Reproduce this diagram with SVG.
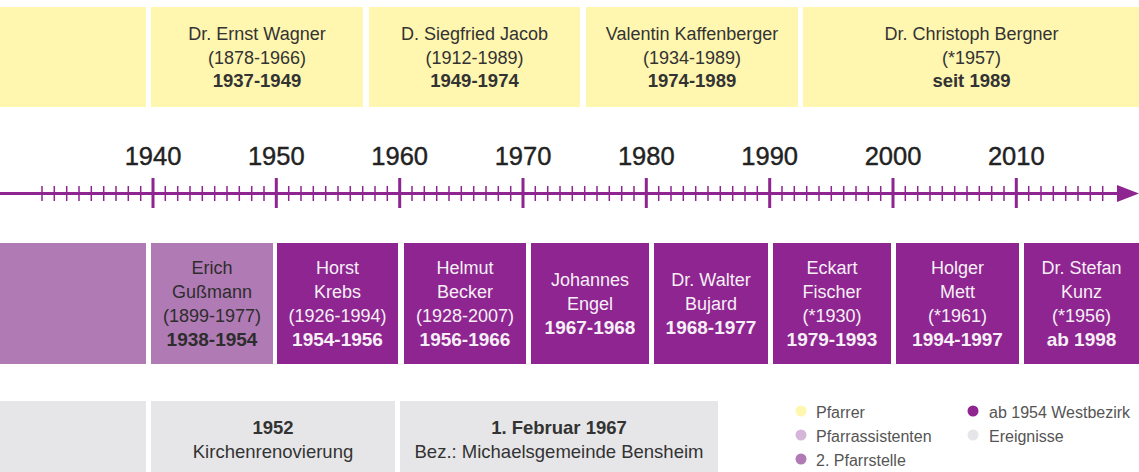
<svg xmlns="http://www.w3.org/2000/svg" width="1139" height="472" viewBox="0 0 1139 472">
<style>
text{font-family:"Liberation Sans",Arial,Helvetica,sans-serif;text-anchor:middle}
.yb{fill:#fff6b0}
.lp{fill:#b07ab4}
.dp{fill:#8e2590}
.gb{fill:#e6e6e8}
.top{font-size:18px;fill:#333}
.top.b{font-size:18.5px}
.mid{font-size:18px;fill:#2d2d2d}
.mid.b{font-size:19px}
.wt{fill:#f7eff7}
.bot{font-size:18.5px;fill:#333}
.b{font-weight:bold}
.yr{font-size:25.5px;fill:#222;stroke:#222;stroke-width:0.4px}
.lg{font-size:16px;fill:#555;text-anchor:start}
.ax{stroke:#8e2590;fill:none}
</style>

<!-- Pfarrer row -->
<g id="pfarrer-empty"><rect class="yb" x="0" y="7" width="146" height="100"/></g>
<g id="pfarrer-wagner">
<rect class="yb" x="151" y="7" width="212" height="100"/>
<text class="top" x="257" y="40">Dr. Ernst Wagner</text>
<text class="top" x="257" y="63.5">(1878-1966)</text>
<text class="top b" x="257" y="87">1937-1949</text>
</g>
<g id="pfarrer-jacob">
<rect class="yb" x="369" y="7" width="211" height="100"/>
<text class="top" x="474.5" y="40">D. Siegfried Jacob</text>
<text class="top" x="474.5" y="63.5">(1912-1989)</text>
<text class="top b" x="474.5" y="87">1949-1974</text>
</g>
<g id="pfarrer-kaffenberger">
<rect class="yb" x="586" y="7" width="212" height="100"/>
<text class="top" x="692" y="40">Valentin Kaffenberger</text>
<text class="top" x="692" y="63.5">(1934-1989)</text>
<text class="top b" x="692" y="87">1974-1989</text>
</g>
<g id="pfarrer-bergner">
<rect class="yb" x="803" y="7" width="336" height="100"/>
<text class="top" x="971.5" y="40">Dr. Christoph Bergner</text>
<text class="top" x="971.5" y="63.5">(*1957)</text>
<text class="top b" x="971.5" y="87">seit 1989</text>
</g>

<!-- Timeline -->
<g id="timeline">
<line class="ax" x1="0" y1="193.5" x2="1122" y2="193.5" stroke-width="3"/>
<polygon points="1117,185 1139,193.5 1117,202" fill="#8e2590"/>
<path class="ax" stroke-width="1.5" d="M42 186V201M54.3 186V201M66.7 186V201M79 186V201M91.3 186V201M103.7 186V201M116 186V201M128.3 186V201M140.7 186V201
M165.3 186V201M177.7 186V201M190 186V201M202.3 186V201M214.7 186V201M227 186V201M239.3 186V201M251.7 186V201M264 186V201
M288.7 186V201M301 186V201M313.3 186V201M325.7 186V201M338 186V201M350.3 186V201M362.7 186V201M375 186V201M387.3 186V201
M412 186V201M424.3 186V201M436.7 186V201M449 186V201M461.3 186V201M473.7 186V201M486 186V201M498.3 186V201M510.7 186V201
M535.3 186V201M547.7 186V201M560 186V201M572.3 186V201M584.7 186V201M597 186V201M609.3 186V201M621.7 186V201M634 186V201
M658.7 186V201M671 186V201M683.3 186V201M695.7 186V201M708 186V201M720.3 186V201M732.7 186V201M745 186V201M757.3 186V201
M782 186V201M794.3 186V201M806.7 186V201M819 186V201M831.3 186V201M843.7 186V201M856 186V201M868.3 186V201M880.7 186V201
M905.3 186V201M917.7 186V201M930 186V201M942.3 186V201M954.7 186V201M967 186V201M979.3 186V201M991.7 186V201M1004 186V201
M1028.7 186V201M1041 186V201M1053.3 186V201M1065.7 186V201M1078 186V201M1090.3 186V201M1102.7 186V201"/>
<path class="ax" stroke-width="3" d="M153 178V208M276.3 178V208M399.7 178V208M523 178V208M646.3 178V208M769.7 178V208M893 178V208M1016.3 178V208"/>
<text class="yr" x="153" y="165">1940</text>
<text class="yr" x="276.3" y="165">1950</text>
<text class="yr" x="399.7" y="165">1960</text>
<text class="yr" x="523" y="165">1970</text>
<text class="yr" x="646.3" y="165">1980</text>
<text class="yr" x="769.7" y="165">1990</text>
<text class="yr" x="893" y="165">2000</text>
<text class="yr" x="1016.3" y="165">2010</text>
</g>

<!-- Pfarrstelle row -->
<g id="stelle-empty"><rect class="lp" x="0" y="243" width="146" height="121"/></g>
<g id="stelle-gussmann">
<rect class="lp" x="151" y="243" width="122" height="121"/>
<text class="mid" x="212" y="274">Erich</text>
<text class="mid" x="212" y="298">Gußmann</text>
<text class="mid" x="212" y="322">(1899-1977)</text>
<text class="mid b" x="212" y="346">1938-1954</text>
</g>
<g id="stelle-krebs">
<rect class="dp" x="277" y="243" width="121" height="121"/>
<text class="mid wt" x="337.5" y="274">Horst</text>
<text class="mid wt" x="337.5" y="298">Krebs</text>
<text class="mid wt" x="337.5" y="322">(1926-1994)</text>
<text class="mid wt b" x="337.5" y="346">1954-1956</text>
</g>
<g id="stelle-becker">
<rect class="dp" x="404" y="243" width="122" height="121"/>
<text class="mid wt" x="465" y="274">Helmut</text>
<text class="mid wt" x="465" y="298">Becker</text>
<text class="mid wt" x="465" y="322">(1928-2007)</text>
<text class="mid wt b" x="465" y="346">1956-1966</text>
</g>
<g id="stelle-engel">
<rect class="dp" x="531" y="243" width="118" height="121"/>
<text class="mid wt" x="590" y="286">Johannes</text>
<text class="mid wt" x="590" y="310">Engel</text>
<text class="mid wt b" x="590" y="334">1967-1968</text>
</g>
<g id="stelle-bujard">
<rect class="dp" x="654" y="243" width="114" height="121"/>
<text class="mid wt" x="711" y="286">Dr. Walter</text>
<text class="mid wt" x="711" y="310">Bujard</text>
<text class="mid wt b" x="711" y="334">1968-1977</text>
</g>
<g id="stelle-fischer">
<rect class="dp" x="773" y="243" width="118" height="121"/>
<text class="mid wt" x="832" y="274">Eckart</text>
<text class="mid wt" x="832" y="298">Fischer</text>
<text class="mid wt" x="832" y="322">(*1930)</text>
<text class="mid wt b" x="832" y="346">1979-1993</text>
</g>
<g id="stelle-mett">
<rect class="dp" x="896" y="243" width="123" height="121"/>
<text class="mid wt" x="957.5" y="274">Holger</text>
<text class="mid wt" x="957.5" y="298">Mett</text>
<text class="mid wt" x="957.5" y="322">(*1961)</text>
<text class="mid wt b" x="957.5" y="346">1994-1997</text>
</g>
<g id="stelle-kunz">
<rect class="dp" x="1024" y="243" width="115" height="121"/>
<text class="mid wt" x="1081.5" y="274">Dr. Stefan</text>
<text class="mid wt" x="1081.5" y="298">Kunz</text>
<text class="mid wt" x="1081.5" y="322">(*1956)</text>
<text class="mid wt b" x="1081.5" y="346">ab 1998</text>
</g>

<!-- Ereignisse row -->
<g id="ereignis-empty"><rect class="gb" x="0" y="401" width="146" height="71"/></g>
<g id="ereignis-1952">
<rect class="gb" x="151" y="401" width="244" height="71"/>
<text class="bot b" x="273" y="434">1952</text>
<text class="bot" x="273" y="458">Kirchenrenovierung</text>
</g>
<g id="ereignis-1967">
<rect class="gb" x="400" y="401" width="318" height="71"/>
<text class="bot b" x="559" y="434">1. Februar 1967</text>
<text class="bot" x="559" y="458">Bez.: Michaelsgemeinde Bensheim</text>
</g>

<!-- Legend -->
<g id="legend">
<circle cx="801" cy="411" r="5.5" fill="#fff6b0"/>
<text class="lg" x="816" y="418">Pfarrer</text>
<circle cx="801" cy="435" r="5.5" fill="#d6b6d8"/>
<text class="lg" x="816" y="442">Pfarrassistenten</text>
<circle cx="801" cy="459" r="5.5" fill="#b07ab4"/>
<text class="lg" x="816" y="466">2. Pfarrstelle</text>
<circle cx="973" cy="411" r="5.5" fill="#8e2590"/>
<text class="lg" x="989" y="418">ab 1954 Westbezirk</text>
<circle cx="973" cy="435" r="5.5" fill="#e6e6e8"/>
<text class="lg" x="989" y="442">Ereignisse</text>
</g>
</svg>
